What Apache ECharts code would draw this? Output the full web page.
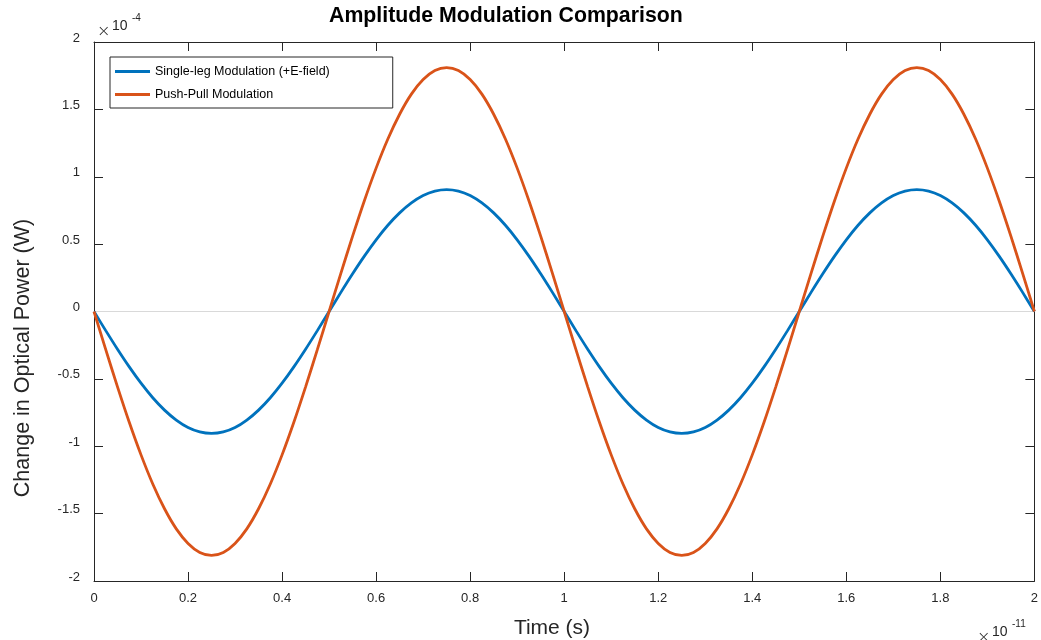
<!DOCTYPE html>
<html>
<head>
<meta charset="utf-8">
<script src="https://cdn.jsdelivr.net/npm/echarts@6/dist/echarts.min.js"></script>
<style>
  html, body { margin: 0; padding: 0; background: #ffffff; }
  #chart { width: 1041px; height: 640px; }
</style>
</head>
<body>
<div id="chart"></div>
<script>
// Time samples, in units of 1e-11 s
var timeValues = [
  0, 0.025, 0.05, 0.075, 0.1, 0.125, 0.15, 0.175, 0.2, 0.225,
  0.25, 0.275, 0.3, 0.325, 0.35, 0.375, 0.4, 0.425, 0.45, 0.475,
  0.5, 0.525, 0.55, 0.575, 0.6, 0.625, 0.65, 0.675, 0.7, 0.725,
  0.75, 0.775, 0.8, 0.825, 0.85, 0.875, 0.9, 0.925, 0.95, 0.975,
  1.0, 1.025, 1.05, 1.075, 1.1, 1.125, 1.15, 1.175, 1.2, 1.225,
  1.25, 1.275, 1.3, 1.325, 1.35, 1.375, 1.4, 1.425, 1.45, 1.475,
  1.5, 1.525, 1.55, 1.575, 1.6, 1.625, 1.65, 1.675, 1.7, 1.725,
  1.75, 1.775, 1.8, 1.825, 1.85, 1.875, 1.9, 1.925, 1.95, 1.975,
  2.0
];

// Change in optical power, in units of 1e-4 W
var singleLegValues = [
  0, -0.142, -0.280, -0.411, -0.532, -0.640, -0.732, -0.806, -0.861, -0.894,
  -0.905, -0.894, -0.861, -0.806, -0.732, -0.640, -0.532, -0.411, -0.280, -0.142,
  0, 0.142, 0.280, 0.411, 0.532, 0.640, 0.732, 0.806, 0.861, 0.894,
  0.905, 0.894, 0.861, 0.806, 0.732, 0.640, 0.532, 0.411, 0.280, 0.142,
  0, -0.142, -0.280, -0.411, -0.532, -0.640, -0.732, -0.806, -0.861, -0.894,
  -0.905, -0.894, -0.861, -0.806, -0.732, -0.640, -0.532, -0.411, -0.280, -0.142,
  0, 0.142, 0.280, 0.411, 0.532, 0.640, 0.732, 0.806, 0.861, 0.894,
  0.905, 0.894, 0.861, 0.806, 0.732, 0.640, 0.532, 0.411, 0.280, 0.142,
  0
];

var pushPullValues = [
  0, -0.283, -0.559, -0.822, -1.064, -1.280, -1.464, -1.613, -1.721, -1.788,
  -1.810, -1.788, -1.721, -1.613, -1.464, -1.280, -1.064, -0.822, -0.559, -0.283,
  0, 0.283, 0.559, 0.822, 1.064, 1.280, 1.464, 1.613, 1.721, 1.788,
  1.810, 1.788, 1.721, 1.613, 1.464, 1.280, 1.064, 0.822, 0.559, 0.283,
  0, -0.283, -0.559, -0.822, -1.064, -1.280, -1.464, -1.613, -1.721, -1.788,
  -1.810, -1.788, -1.721, -1.613, -1.464, -1.280, -1.064, -0.822, -0.559, -0.283,
  0, 0.283, 0.559, 0.822, 1.064, 1.280, 1.464, 1.613, 1.721, 1.788,
  1.810, 1.788, 1.721, 1.613, 1.464, 1.280, 1.064, 0.822, 0.559, 0.283,
  0
];

var seriesNames = ['Single-leg Modulation (+E-field)', 'Push-Pull Modulation'];
var titleText = 'Amplitude Modulation Comparison';
var xAxisTitle = 'Time (s)';
var yAxisTitle = 'Change in Optical Power (W)';
var xExponent = '-11';
var yExponent = '-4';

function pairs(xs, ys) {
  return xs.map(function (x, i) { return [x, ys[i]]; });
}

var FONT = '"Liberation Sans", Arial, Helvetica, sans-serif';
var AXIS_COLOR = '#262626';

var chart = echarts.init(document.getElementById('chart'), null, { renderer: 'canvas' });

var boxAxisCommon = {
  type: 'value',
  axisLine: { show: true, onZero: false, lineStyle: { color: AXIS_COLOR, width: 1 } },
  axisTick: { show: true, inside: true, length: 9, lineStyle: { color: AXIS_COLOR, width: 1 } },
  splitLine: { show: false }
};

// "×10^n" axis multiplier: cross, base and superscript placed separately
function exponentGroup(x, y, exp) {
  return [
    { type: 'text', x: x, y: y + 6,
      style: { text: '\u00d7', font: '300 16px "DejaVu Sans", sans-serif', fill: AXIS_COLOR,
               textAlign: 'left', textVerticalAlign: 'middle' } },
    { type: 'text', x: x + 15, y: y,
      style: { text: '10', font: '14px ' + FONT, fill: AXIS_COLOR, textAlign: 'left', textVerticalAlign: 'middle' } },
    { type: 'text', x: x + 35, y: y - 8,
      style: { text: exp, font: '10px ' + FONT, fill: AXIS_COLOR, textAlign: 'left', textVerticalAlign: 'middle' } }
  ];
}

var option = {
  animation: false,
  backgroundColor: '#ffffff',
  grid: { left: 94, right: 6, top: 42, bottom: 59, containLabel: false },
  legend: {
    orient: 'vertical',
    left: 110,
    top: 57,
    data: seriesNames,
    icon: 'rect',
    itemWidth: 35,
    itemHeight: 3,
    itemGap: 10,
    padding: [8, 63, 7, 5],
    borderColor: AXIS_COLOR,
    borderWidth: 1,
    backgroundColor: '#ffffff',
    textStyle: { fontFamily: FONT, fontSize: 12.5, color: '#000000' }
  },
  xAxis: [
    Object.assign({}, boxAxisCommon, {
      position: 'bottom',
      min: 0, max: 2, interval: 0.2,
      axisLabel: { show: true, margin: 11, fontFamily: FONT, fontSize: 13, color: AXIS_COLOR }
    }),
    Object.assign({}, boxAxisCommon, {
      position: 'top',
      min: 0, max: 2, interval: 0.2,
      axisLabel: { show: false }
    })
  ],
  yAxis: [
    Object.assign({}, boxAxisCommon, {
      position: 'left',
      min: -2, max: 2, interval: 0.5,
      axisLabel: {
        show: true, margin: 14, color: AXIS_COLOR,
        formatter: '{v|{value}}',
        rich: { v: { fontFamily: FONT, fontSize: 13, color: AXIS_COLOR, padding: [0, 0, 8, 0] } }
      }
    }),
    Object.assign({}, boxAxisCommon, {
      position: 'right',
      min: -2, max: 2, interval: 0.5,
      axisLabel: { show: false }
    })
  ],
  series: [
    {
      name: seriesNames[0],
      type: 'line',
      xAxisIndex: 0, yAxisIndex: 0,
      data: pairs(timeValues, singleLegValues),
      showSymbol: false,
      smooth: 0.3,
      lineStyle: { color: '#0072BD', width: 2.8 },
      itemStyle: { color: '#0072BD' },
      z: 3,
      markLine: {
        silent: true,
        symbol: 'none',
        label: { show: false },
        lineStyle: { color: '#d9d9d9', width: 1, type: 'solid' },
        data: [{ yAxis: 0 }],
        z: 1
      }
    },
    {
      name: seriesNames[1],
      type: 'line',
      xAxisIndex: 0, yAxisIndex: 0,
      data: pairs(timeValues, pushPullValues),
      showSymbol: false,
      smooth: 0.3,
      lineStyle: { color: '#D95319', width: 2.8 },
      itemStyle: { color: '#D95319' },
      z: 4
    }
  ],
  graphic: [
    {
      type: 'text', left: 329, top: 6,
      style: { text: titleText, font: 'bold 21.3px ' + FONT, fill: '#000000' }
    },
    {
      type: 'text', x: 552, y: 628,
      style: { text: xAxisTitle, font: '21px ' + FONT, fill: AXIS_COLOR,
               textAlign: 'center', textVerticalAlign: 'middle' }
    },
    {
      type: 'text', x: 23, y: 358, rotation: Math.PI / 2,
      style: { text: yAxisTitle, font: '21.5px ' + FONT, fill: AXIS_COLOR,
               textAlign: 'center', textVerticalAlign: 'middle' }
    }
  ].concat(exponentGroup(97, 26, yExponent), exponentGroup(977, 632, xExponent))
};

chart.setOption(option);
</script>
</body>
</html>
